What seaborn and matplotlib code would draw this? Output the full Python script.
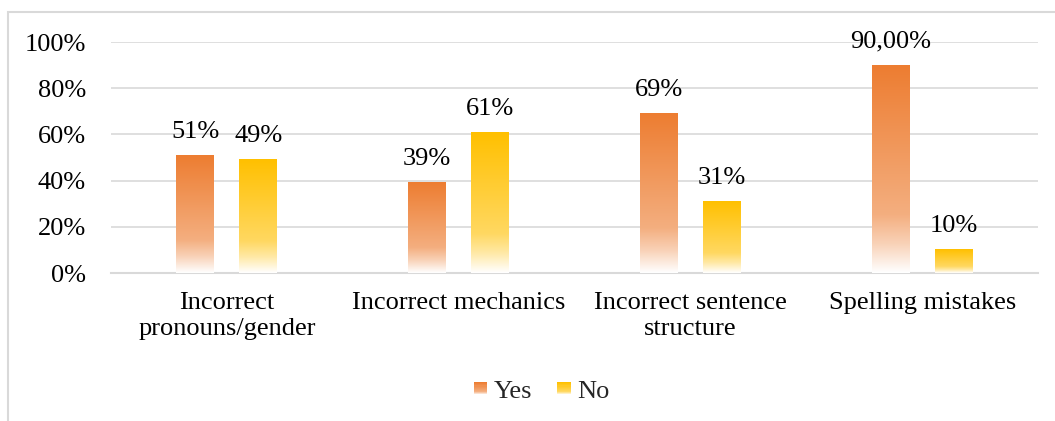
import numpy as np
import pandas as pd
import matplotlib
matplotlib.use("Agg")
import matplotlib.pyplot as plt
import matplotlib.colors as mcolors
from matplotlib.patches import Rectangle
from matplotlib.legend_handler import HandlerBase
from matplotlib.lines import Line2D
import seaborn as sns

categories = ["Incorrect\npronouns/gender", "Incorrect mechanics",
              "Incorrect sentence\nstructure", "Spelling mistakes"]
yes_values = [51, 39, 69, 90]
no_values = [49, 61, 31, 10]
yes_labels = ["51%", "39%", "69%", "90,00%"]
no_labels = ["49%", "61%", "31%", "10%"]
series = ["Yes", "No"]
colors = {"Yes": "#ED7D31", "No": "#FFC000"}
yticks = [0, 20, 40, 60, 80, 100]
ytick_labels = ["0%", "20%", "40%", "60%", "80%", "100%"]

df = pd.DataFrame({
    "category": categories * 2,
    "value": yes_values + no_values,
    "series": ["Yes"] * 4 + ["No"] * 4,
})

sns.set_theme(style="white")
plt.rcParams["font.family"] = ["Liberation Serif", "DejaVu Serif"]
FS = 19

fig = plt.figure(figsize=(10.55, 4.21), dpi=100)
ax = fig.add_axes([0.1052, 0.3515, 0.8787, 0.5487])

sns.barplot(data=df, x="category", y="value", hue="series", order=categories,
            hue_order=series, palette=colors, width=0.544, gap=0.4,
            ax=ax, legend=False, zorder=3)


def grad_colors(base, n=200):
    rgb = np.array(mcolors.to_rgb(base))
    white = np.ones(3)
    t = np.linspace(0, 1, n)  # 0 = top, 1 = bottom
    stops_t = [0.0, 0.72, 0.86, 1.0]
    stops_f = [1.0, 0.62, 0.35, 0.0]
    f = np.interp(t, stops_t, stops_f)
    return f[:, None] * rgb[None, :] + (1 - f[:, None]) * white[None, :]


ax.set_ylim(0, 100)
xlim = ax.get_xlim()
bars = sorted([p for p in ax.patches if p.get_height() > 0], key=lambda p: p.get_x())
label_list, base_list = [], []
for i in range(len(categories)):
    label_list += [yes_labels[i], no_labels[i]]
    base_list += [colors["Yes"], colors["No"]]

for p, lab, base in zip(bars, label_list, base_list):
    x, w, h = p.get_x(), p.get_width(), p.get_height()
    img = grad_colors(base)[:, None, :]
    ax.imshow(img, extent=[x, x + w, 0, h], aspect="auto", origin="upper",
              zorder=3, interpolation="bilinear")
    p.set_facecolor("none")
    p.set_edgecolor("none")
    ax.annotate(lab, (x + w / 2, h), xytext=(0, 9), textcoords="offset points",
                ha="center", va="bottom", fontsize=FS, color="#000000")
ax.set_xlim(xlim)
ax.set_ylim(0, 100)

ax.set_yticks(yticks)
ax.set_yticklabels(ytick_labels)
ax.tick_params(axis="y", length=0, pad=18.0, labelsize=FS, colors="black")
ax.tick_params(axis="x", length=0, pad=14, labelsize=FS, colors="black")
ax.set_xlabel("")
ax.set_ylabel("")
ax.yaxis.grid(True, color="#D9D9D9", linewidth=1.2, zorder=0)
ax.set_axisbelow(True)
for s in ["top", "right", "left"]:
    ax.spines[s].set_visible(False)
ax.spines["bottom"].set_color("#D9D9D9")
ax.spines["bottom"].set_linewidth(1.5)


class GradHandler(HandlerBase):
    def __init__(self, base):
        super().__init__()
        self.base = base

    def create_artists(self, legend, orig_handle, xdescent, ydescent, width,
                       height, fontsize, trans):
        n = 12
        cols = grad_colors(self.base, n)
        size = 9.5  # points
        x0 = -xdescent + (width - size)
        y0 = -ydescent + (height - size) / 2
        arts = []
        for k in range(n):
            arts.append(Rectangle((x0, y0 + size * (n - 1 - k) / n), size, size / n + 0.2,
                                  facecolor=cols[k], edgecolor="none", transform=trans))
        return arts


h_yes = Line2D([], [])
h_no = Line2D([], [])
fig.legend([h_yes, h_no], series, loc="center", bbox_to_anchor=(0.513, 0.07),
           ncol=2, frameon=False, fontsize=FS, handlelength=0.55,
           handletextpad=0.25, columnspacing=0.9,
           handler_map={h_yes: GradHandler(colors["Yes"]), h_no: GradHandler(colors["No"])})

# chart border (partially cropped, as in the reference)
fig.add_artist(Rectangle((8 / 1055, -0.1), 1.2, 1.1 - 12 / 421,
                         transform=fig.transFigure, fill=False,
                         edgecolor="#D9D9D9", linewidth=1.5))

fig.savefig("out.png", dpi=100, facecolor="white")
